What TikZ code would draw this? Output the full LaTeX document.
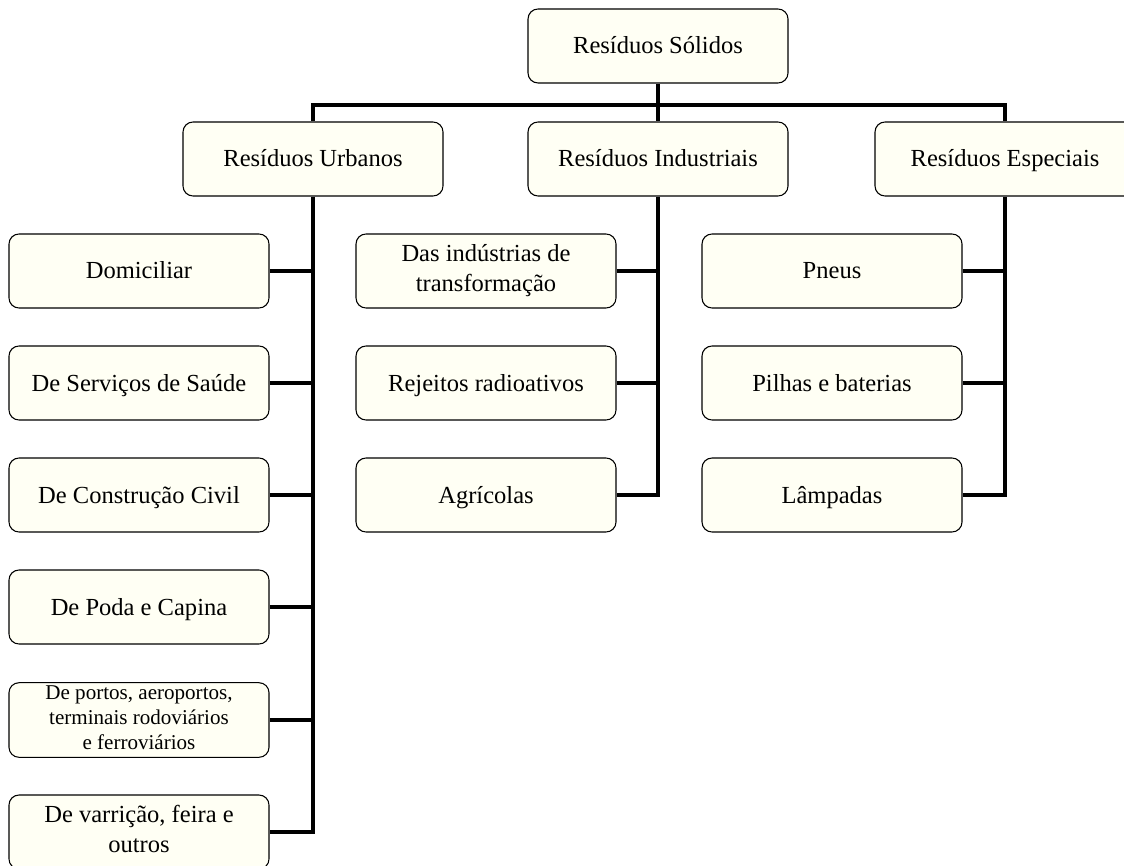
\documentclass[tikz,border=0pt]{standalone}
\usepackage{fontspec}
\setmainfont{Liberation Serif}
\usepackage{xcolor}
\usepackage{tikz}
\definecolor{cream}{HTML}{FFFFF4}
\newcommand{\boxstrut}{\rule[-4pt]{0pt}{20pt}}
\tikzset{
  box/.style={draw=black, fill=cream, line width=0.8pt, rounded corners=7.5pt,
    minimum width=195pt, minimum height=55.5pt, inner sep=2pt, align=center,
    font=\fontsize{18.4}{22.5}\selectfont,
    execute at begin node=\boxstrut, execute at end node=\boxstrut},
  smallbox/.style={box, font=\fontsize{15.8}{18.8}\selectfont},
  link/.style={draw=black, line width=3pt},
}

\begin{document}
\begin{tikzpicture}[x=0.75pt, y=-0.75pt]
  \useasboundingbox (0,0) rectangle (1124,866);
  \coordinate (bus) at (658,105);
  % top and second level
  \node[box] (S) at (658,46) {Resíduos Sólidos};
  \node[box] (U) at (313,159) {Resíduos Urbanos};
  \node[box] (I) at (658,159) {Resíduos Industriais};
  \node[box] (E) at (1005,159) {Resíduos Especiais};
  % urbanos
  \node[box] (U1) at (139,271) {Domiciliar};
  \node[box] (U2) at (139,383) {De Serviços de Saúde};
  \node[box] (U3) at (139,495) {De Construção Civil};
  \node[box] (U4) at (139,607) {De Poda e Capina};
  \node[smallbox] (U5) at (139,720) {De portos, aeroportos,\\terminais rodoviários\\e ferroviários};
  \node[box] (U6) at (139,832) {De varrição, feira e\\outros};
  % industriais
  \node[box] (I1) at (486,271) {Das indústrias de\\transformação};
  \node[box] (I2) at (486,383) {Rejeitos radioativos};
  \node[box] (I3) at (486,495) {Agrícolas};
  % especiais
  \node[box] (E1) at (832,271) {Pneus};
  \node[box] (E2) at (832,383) {Pilhas e baterias};
  \node[box] (E3) at (832,495) {Lâmpadas};
  % connectors
  \draw[link] (S.south) -- (I.north);
  \draw[link] (U.north) |- (bus) -| (E.north);
  \draw[link] (U.south) |- (U6.east);
  \foreach \n in {U1,U2,U3,U4,U5}
    \draw[link] (\n.east) -- (\n.east -| U.south);
  \draw[link] (I.south) |- (I3.east);
  \foreach \n in {I1,I2}
    \draw[link] (\n.east) -- (\n.east -| I.south);
  \draw[link] (E.south) |- (E3.east);
  \foreach \n in {E1,E2}
    \draw[link] (\n.east) -- (\n.east -| E.south);
\end{tikzpicture}
\end{document}
